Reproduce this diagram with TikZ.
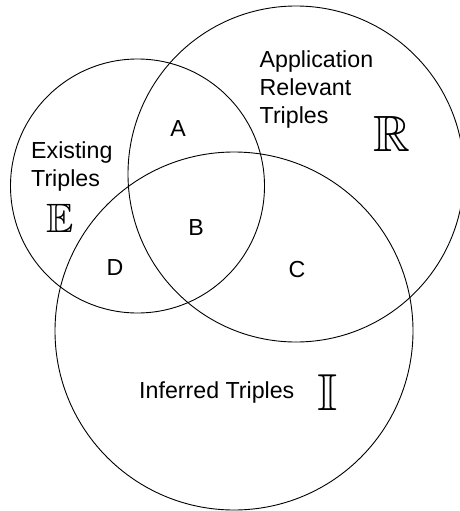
\documentclass[tikz,border=0pt]{standalone}
\usepackage{fontspec}
\setmainfont{Liberation Sans}
\font\bbE=msbm10 at 41pt
\font\bbR=msbm10 at 51pt
\font\bbI=msbm10 at 52pt
\begin{document}
\begin{tikzpicture}[x=1pt,y=-1pt,
  setcircle/.style={draw, circle, line width=0.9pt, inner sep=0pt},
  label/.style={inner sep=0pt, font=\fontsize{23.2}{28.3}\selectfont},
  setlabel/.style={label, align=left, anchor=north west},
  region/.style={label, anchor=base}]
  \useasboundingbox (0,0) rectangle (459,511);

  % the three sets
  \node[setcircle, minimum size=254pt] (existing) at (137.5,186) {};
  \node[setcircle, minimum size=336pt] (relevant) at (296,174) {};
  \node[setcircle, minimum size=358pt] (inferred) at (234,331) {};

  % set names
  \node[setlabel] (tApp) at (259.5,50) {Application\\Relevant\\Triples};
  \node[setlabel] (tExi) at (31,141.5) {Existing\\Triples};
  \node[label, anchor=base west] (tInf) at (139,398.3) {Inferred Triples};

  % set symbols
  \node[inner sep=0pt, anchor=base] (symE) at (59.8,232.7) {\bbE E};
  \node[inner sep=0pt, anchor=base] (symR) at (391.5,151.7) {\bbR R};
  \node[inner sep=0pt, anchor=base] (symI) at (327.2,410.7) {\bbI I};

  % intersection regions
  \node[region] (rA) at (178,136) {A};
  \node[region] (rB) at (196,235) {B};
  \node[region] (rC) at (297,277.5) {C};
  \node[region] (rD) at (115,275) {D};
\end{tikzpicture}
\end{document}
